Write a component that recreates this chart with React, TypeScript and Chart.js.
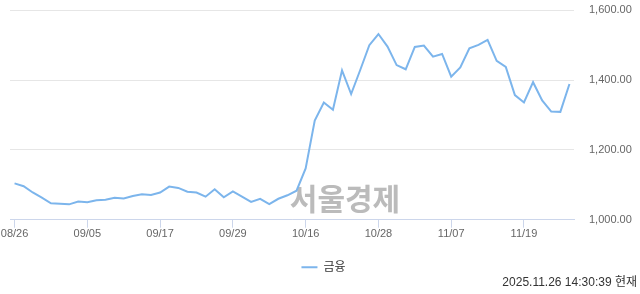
import React, { useEffect, useRef } from "react";
import { Chart, registerables } from "chart.js";

Chart.register(...registerables);

const dates: string[] = [
  "08/26", "08/27", "08/28", "08/29", "09/01", "09/02", "09/03", "09/04", "09/05",
  "09/08", "09/09", "09/10", "09/11", "09/12", "09/15", "09/16", "09/17",
  "09/18", "09/19", "09/22", "09/23", "09/24", "09/25", "09/26", "09/29",
  "09/30", "10/01", "10/02", "10/10", "10/13", "10/14", "10/15", "10/16",
  "10/17", "10/20", "10/21", "10/22", "10/23", "10/24", "10/27", "10/28",
  "10/29", "10/30", "10/31", "11/03", "11/04", "11/05", "11/06", "11/07",
  "11/10", "11/11", "11/12", "11/13", "11/14", "11/17", "11/18", "11/19",
  "11/20", "11/21", "11/24", "11/25", "11/26",
];

const financeValues: number[] = [
  1104, 1096, 1078, 1063, 1047, 1046, 1044, 1052, 1050,
  1056, 1057, 1063, 1061, 1068, 1073, 1071, 1078,
  1095, 1091, 1080, 1078, 1066, 1087, 1064, 1081,
  1066, 1051, 1060, 1045, 1060, 1070, 1083, 1147,
  1284, 1336, 1315, 1428, 1360, 1429, 1500, 1532,
  1496, 1443, 1431, 1495, 1499, 1467, 1475, 1410,
  1436, 1491, 1501, 1515, 1455, 1438, 1357, 1336,
  1394, 1342, 1310, 1309, 1389,
];

const seriesName = "금융";
const yTicks: number[] = [1000, 1200, 1400, 1600];
const tickEvery = 8;
const timestamp = "2025.11.26 14:30:39 현재";
const watermark = "서울경제";

const FONT = "'Liberation Sans', Arial, 'Noto Sans CJK KR', sans-serif";

function fmt(v: number): string {
  const [i, d] = v.toFixed(2).split(".");
  return i.replace(/\B(?=(\d{3})+(?!\d))/g, ",") + "." + d;
}

const watermarkPlugin = {
  id: "watermark",
  beforeDatasetsDraw(chart: any) {
    const { ctx } = chart;
    ctx.save();
    ctx.font = "bold 30px 'Noto Sans CJK KR', sans-serif";
    ctx.fillStyle = "rgba(175,175,175,0.85)";
    ctx.textAlign = "center";
    ctx.textBaseline = "middle";
    ctx.fillText(watermark, 345, 199);
    ctx.restore();
  },
};

export default function App() {
  const ref = useRef<HTMLCanvasElement | null>(null);
  useEffect(() => {
    if (!ref.current) return;
    const chart = new Chart(ref.current, {
      type: "line",
      data: {
        labels: dates,
        datasets: [
          {
            label: seriesName,
            data: financeValues,
            borderColor: "#7cb5ec",
            backgroundColor: "#7cb5ec",
            borderWidth: 2,
            pointRadius: 0,
            tension: 0,
          },
        ],
      },
      options: {
        animation: false,
        responsive: true,
        maintainAspectRatio: false,
        layout: { padding: { top: 10.3, left: 10, right: 3, bottom: 0 } },
        scales: {
          x: {
            offset: true,
            grid: {
              display: true,
              drawOnChartArea: false,
              drawTicks: true,
              tickLength: 8,
              color: "#ccd6eb",
            },
            border: { display: true, color: "#ccd6eb", width: 1 },
            ticks: {
              autoSkip: false,
              maxRotation: 0,
              padding: 0,
              color: "#666666",
              font: { family: FONT, size: 11 },
              callback: (_v: any, i: number) => (i % tickEvery === 0 ? dates[i] : null),
            },
            afterFit: (s: any) => {
              s.height = 33.5;
            },
          },
          y: {
            position: "right",
            min: yTicks[0],
            max: yTicks[yTicks.length - 1],
            afterBuildTicks: (s: any) => {
              s.ticks = yTicks.map((v) => ({ value: v }));
            },
            grid: {
              color: "#e6e6e6",
              drawTicks: true,
              tickLength: 15,
              tickColor: "rgba(0,0,0,0)",
            },
            border: { display: false },
            ticks: {
              padding: 0,
              color: "#666666",
              font: { family: FONT, size: 11 },
              callback: (v: any) => fmt(Number(v)),
            },
            afterFit: (s: any) => {
              s.width = 63;
            },
          },
        },
        plugins: {
          legend: {
            display: true,
            position: "bottom",
            align: "center",
            labels: {
              usePointStyle: true,
              pointStyle: "line",
              pointStyleWidth: 16,
              color: "#333333",
              font: { family: FONT, size: 12 },
              padding: 8,
            },
          },
          subtitle: {
            display: true,
            text: timestamp,
            position: "bottom",
            align: "end",
            color: "#333333",
            font: { family: FONT, size: 12, weight: "normal" },
            padding: { top: -7.6, bottom: 4 },
          },
          tooltip: { enabled: false },
        },
      },
      plugins: [watermarkPlugin],
    });
    return () => chart.destroy();
  }, []);
  return (
    <div style={{ position: "absolute", left: 0, top: 0, width: 640, height: 294 }}>
      <canvas ref={ref} />
    </div>
  );
}
